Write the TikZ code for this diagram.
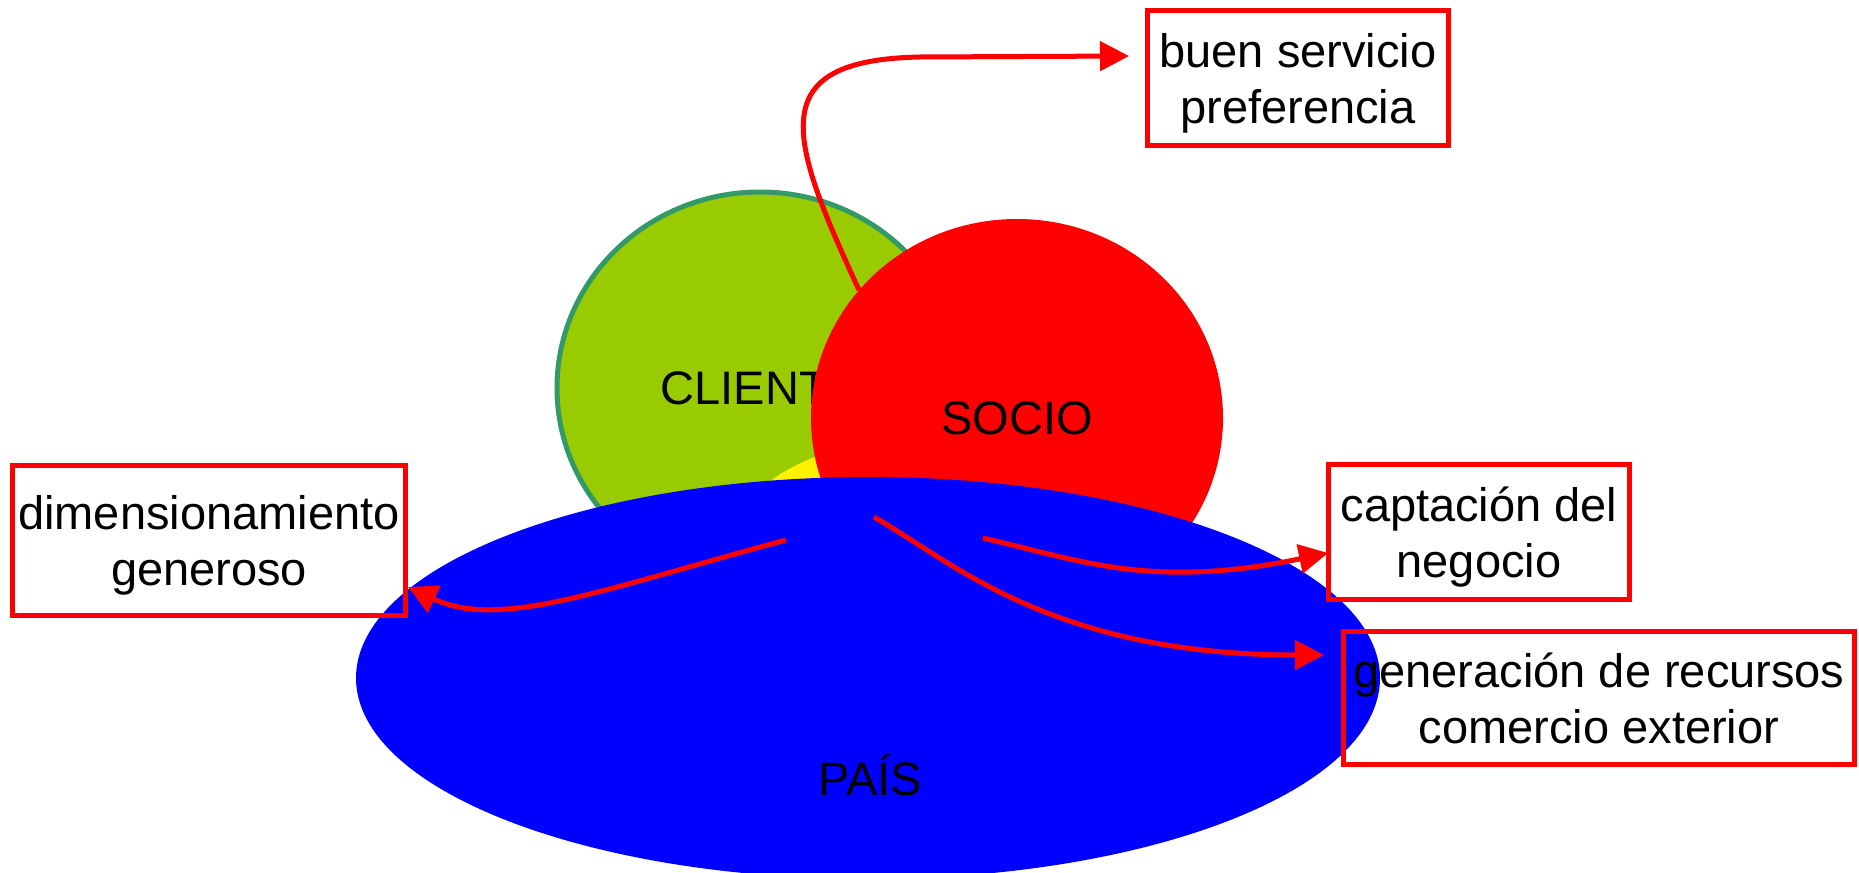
\documentclass[tikz,border=0pt]{standalone}
\usepackage{fontspec}
\setmainfont{Liberation Sans}
\usetikzlibrary{shapes.geometric,arrows.meta}
\definecolor{verdehoja}{RGB}{153,204,0}
\definecolor{verdeborde}{RGB}{51,153,102}
\begin{document}
\begin{tikzpicture}
  [x=1pt,y=-1pt,every node/.style={font=\fontsize{47}{56}\selectfont,align=center,inner sep=0pt},
   zona/.style={ellipse},
   caja/.style={draw=red,line width=5pt,text depth=0pt},
   flecha/.style={red,line width=5pt,-{Triangle[length=29pt,width=29pt]}}]
  \useasboundingbox (0,0) rectangle (1859,872);

  \node[zona,fill=verdehoja,draw=verdeborde,line width=5pt,minimum width=406pt,minimum height=392pt] (cliente) at (760,388) {CLIENTE};
  \node[zona,fill=yellow,minimum width=400pt,minimum height=400pt] (comun) at (886,644) {};
  \node[zona,fill=red,minimum width=412pt,minimum height=398pt] (socio) at (1017,418) {SOCIO};
  \node[zona,fill=blue,minimum width=1024pt,minimum height=402pt] (pais) at (868,678) {};
  \node[anchor=base] (paistxt) at (870,795) {PAÍS};

  \node[caja,minimum width=301pt,minimum height=135pt] (buen) at (1298,78) {buen servicio\\preferencia};
  \node[caja,minimum width=393pt,minimum height=150pt] (dim) at (209,540) {dimensionamiento\\generoso};
  \node[caja,minimum width=301pt,minimum height=135pt] (capt) at (1479,532) {captación del\\negocio};
  \node[caja,minimum width=511pt,minimum height=133pt] (gen) at (1599,698) {generación de recursos\\comercio exterior};

  \coordinate (ini2) at (786,540);
  \coordinate (ini3) at (983,538);
  \coordinate (ini4) at (874,517);

  \draw[flecha] (socio.141) .. controls (790,140) and (760,60) .. (920,57) -- ([xshift=-16pt,yshift=22pt]buen.west);
  \draw[flecha] (ini2) .. controls (600,590) and (500,630) .. ([yshift=-47pt]dim.east);
  \draw[flecha] (ini3) .. controls (1080,560) and (1150,590) .. ([xshift=2pt,yshift=-21pt]capt.west);
  \draw[flecha] (ini4) .. controls (950,560) and (1050,655) .. ([xshift=-17pt,yshift=43pt]gen.west);

\end{tikzpicture}
\end{document}
